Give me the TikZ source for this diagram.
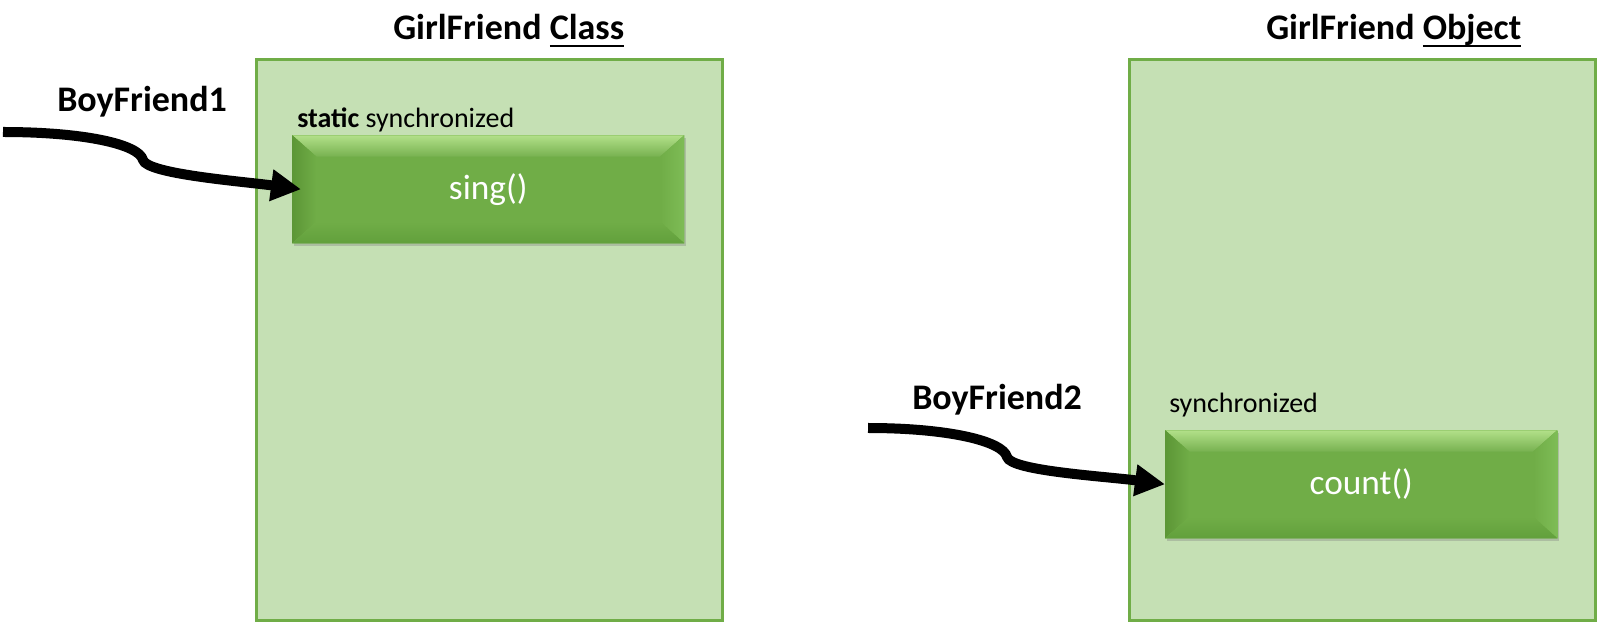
\documentclass[tikz,border=0pt]{standalone}
\usepackage{fontspec}
\setmainfont{Carlito}
\usepackage{tikz}
\usetikzlibrary{arrows.meta,shadows}

\definecolor{boxgreen}{HTML}{70AD47}
\definecolor{panelgreen}{HTML}{C5E0B4}
\definecolor{bevtop}{HTML}{B2E089}
\definecolor{bevleft}{HTML}{5C9636}
\definecolor{bevright}{HTML}{7EBC56}
\definecolor{bevbottom}{HTML}{62A03C}

\newcommand{\titleline}[1]{\setbox0\hbox{#1}\rlap{\rule[-5pt]{\wd0}{1.5pt}}\box0}

\begin{document}
\begin{tikzpicture}[x=0.75pt,y=-0.75pt,
    panel/.style={draw=boxgreen,line width=2pt,fill=panelgreen,minimum width=349.5pt,minimum height=420.75pt,anchor=north west},
    titletext/.style={font=\fontsize{27}{32}\selectfont\bfseries,inner sep=0pt,anchor=base west},
    boytext/.style={font=\fontsize{27}{32}\selectfont\bfseries,inner sep=0pt,anchor=base west},
    modtext/.style={font=\fontsize{21}{25}\selectfont,inner sep=0pt,anchor=base west},
    method/.style={fill=boxgreen,text=white,font=\fontsize{26.5}{30}\selectfont,
        minimum width=294pt,minimum height=81pt,anchor=north west,
        drop shadow={opacity=0.35,shadow xshift=1.5pt,shadow yshift=-2pt},
        path picture={
            \coordinate (nw) at (path picture bounding box.north west);
            \coordinate (ne) at (path picture bounding box.north east);
            \coordinate (sw) at (path picture bounding box.south west);
            \coordinate (se) at (path picture bounding box.south east);
            \fill[top color=bevtop,bottom color=boxgreen!95!white] (nw) -- (ne) -- ([shift={(-18pt,-16pt)}]ne) -- ([shift={(18pt,-16pt)}]nw) -- cycle;
            \fill[left color=bevleft,right color=boxgreen] (nw) -- ([shift={(18pt,-16pt)}]nw) -- ([shift={(18pt,16pt)}]sw) -- (sw) -- cycle;
            \fill[left color=boxgreen,right color=bevright] (ne) -- (se) -- ([shift={(-18pt,16pt)}]se) -- ([shift={(-18pt,-16pt)}]ne) -- cycle;
            \fill[top color=boxgreen,bottom color=bevbottom] (sw) -- ([shift={(18pt,16pt)}]sw) -- ([shift={(-18pt,16pt)}]se) -- (se) -- cycle;
        }},
    flow/.style={line width=7.5pt,-{Triangle[length=22.5pt,width=22.5pt]}}]
    \useasboundingbox (0,0) rectangle (1600,630);

    \foreach \name/\x/\kind in {classbox/255/Class, objbox/1128/Object}{
        \node[panel] (\name) at (\x,58) {};
        \node[titletext] (\name title) at (\x+138,40) {GirlFriend \titleline{\kind}};
    }

    \node[method] (sing) at (292,135) {sing()};
    \node[method] (count) at (1165,430) {count()};
    \node[modtext] (singmod) at (297,128) {\textbf{static} synchronized};
    \node[modtext] (countmod) at (1169,413) {synchronized};

    \node[boytext] (boy1) at (57,112) {BoyFriend1};
    \node[boytext] (boy2) at (912,410) {BoyFriend2};

    \coordinate (boy1in) at (3,132);
    \coordinate (boy1bend) at (143,160);
    \coordinate (boy2in) at (868,428);
    \coordinate (boy2bend) at (1007,457);
    \draw[flow] (boy1in) .. controls +(80,0) and +(-4,-16) .. (boy1bend)
        .. controls +(4,14) and +(-60,-8) .. ([xshift=6.75pt]sing.west);
    \draw[flow] (boy2in) .. controls +(80,0) and +(-4,-16) .. (boy2bend)
        .. controls +(4,14) and +(-60,-8) .. (count.west);
\end{tikzpicture}
\end{document}
